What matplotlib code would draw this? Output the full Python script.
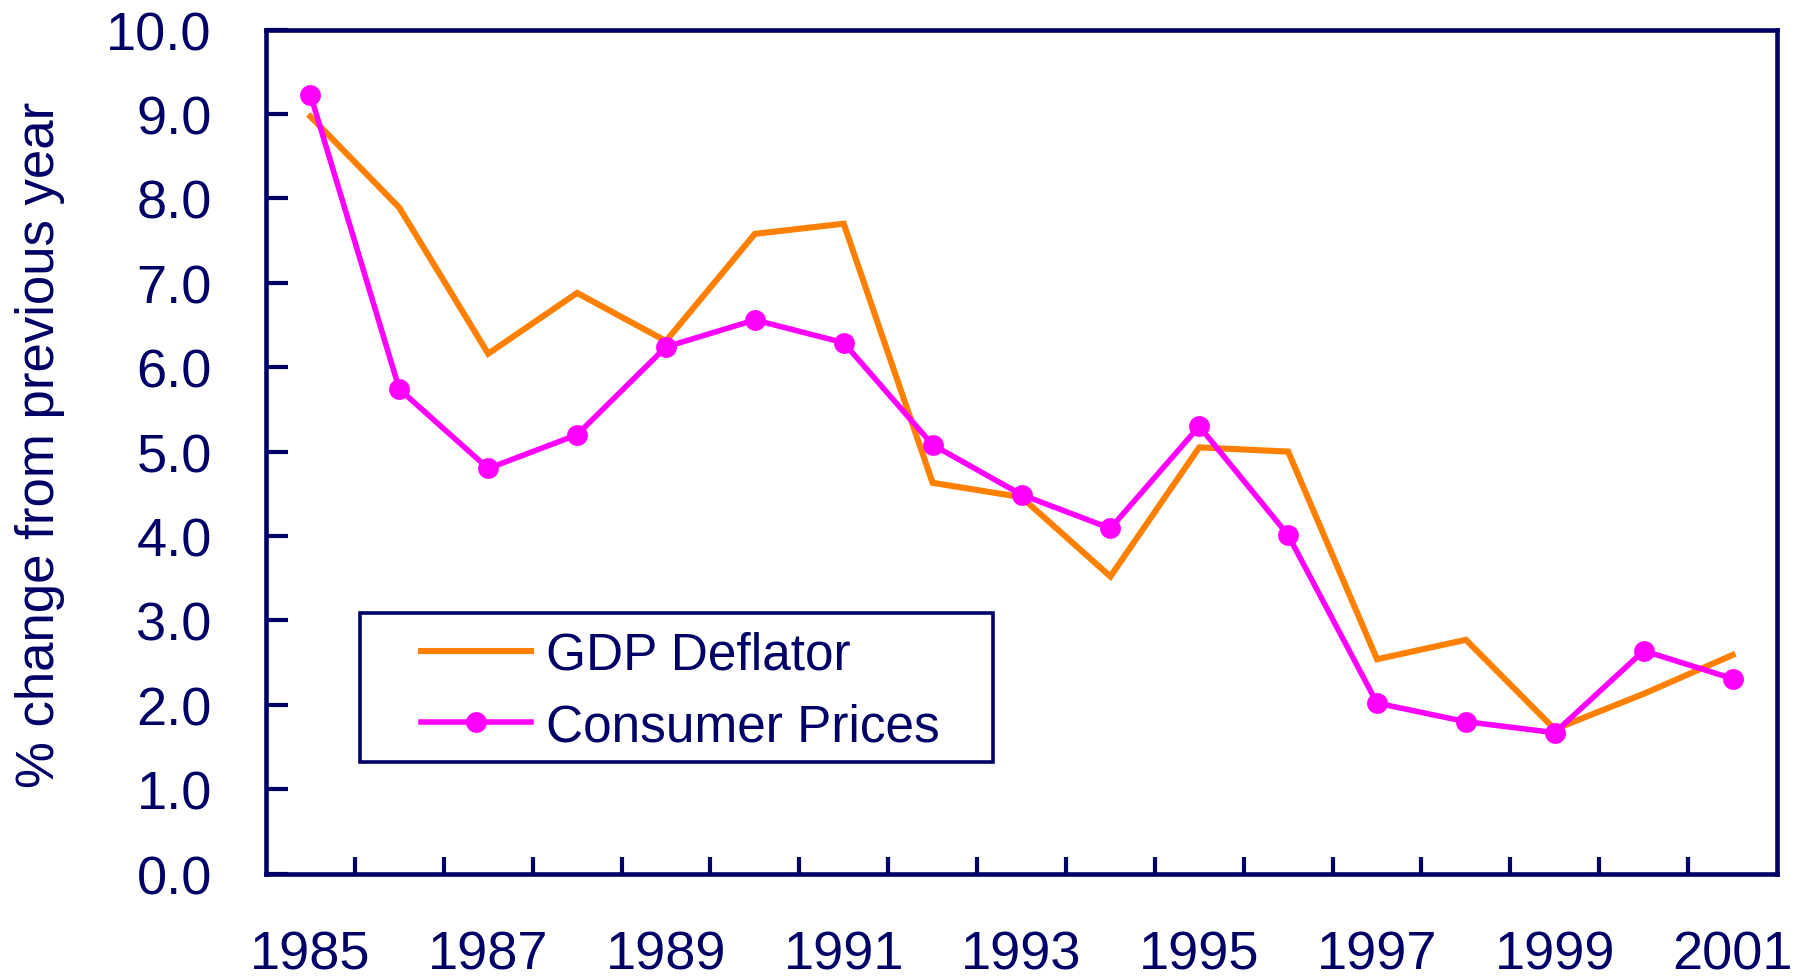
import matplotlib
matplotlib.use("Agg")
import matplotlib.pyplot as plt
from matplotlib.ticker import FixedLocator, FixedFormatter
from matplotlib.patches import Rectangle

years = list(range(1985, 2002))
gdp_deflator = [8.97, 7.89, 6.16, 6.88, 6.31, 7.58, 7.70, 4.63, 4.46, 3.52,
                5.05, 5.00, 2.54, 2.77, 1.71, 2.13, 2.59]
consumer_prices = [9.23, 5.74, 4.80, 5.20, 6.24, 6.56, 6.29, 5.08, 4.49, 4.09,
                   5.30, 4.01, 2.02, 1.80, 1.67, 2.64, 2.31]
y_ticks = [0, 1, 2, 3, 4, 5, 6, 7, 8, 9, 10]
y_tick_labels = ["0.0", "1.0", "2.0", "3.0", "4.0", "5.0", "6.0", "7.0", "8.0", "9.0", "10.0"]
x_label_years = [1985, 1987, 1989, 1991, 1993, 1995, 1997, 1999, 2001]
series_names = ["GDP Deflator", "Consumer Prices"]
ylabel = "% change from previous year"

NAVY = "#000066"
ORANGE = "#FF8000"
MAGENTA = "#FF00FF"
FONT = ["Liberation Sans", "DejaVu Sans"]

plt.rcParams["font.family"] = FONT

fig = plt.figure(figsize=(18.07, 9.79), dpi=100)
W, H = 1807, 979
left, right, top, bottom = 266, 1777, 30.6, 874.6
ax = fig.add_axes([left / W, 1 - bottom / H, (right - left) / W, (bottom - top) / H])

x = list(range(len(years)))
ax.plot(x, gdp_deflator, color=ORANGE, lw=4.4, solid_joinstyle="miter",
        label=series_names[0], zorder=3)
ax.plot(x, consumer_prices, color=MAGENTA, lw=4.0, marker="o", markersize=15,
        markeredgewidth=0, label=series_names[1], zorder=4)

ax.set_xlim(-0.5, len(years) - 0.5)
ax.set_ylim(0, 10)

for s in ax.spines.values():
    s.set_color(NAVY)
    s.set_linewidth(3.3)

ax.yaxis.set_major_locator(FixedLocator(y_ticks))
ax.yaxis.set_major_formatter(FixedFormatter(y_tick_labels))
ax.tick_params(axis="y", direction="in", length=16, width=3, color=NAVY,
               labelcolor=NAVY, labelsize=39, pad=39)

boundaries = [i + 0.5 for i in range(len(years) - 1)]
ax.xaxis.set_major_locator(FixedLocator(boundaries))
ax.xaxis.set_major_formatter(FixedFormatter([""] * len(boundaries)))
label_pos = [years.index(yv) for yv in x_label_years]
ax.xaxis.set_minor_locator(FixedLocator(label_pos))
ax.xaxis.set_minor_formatter(FixedFormatter([str(v) for v in x_label_years]))
ax.tick_params(axis="x", which="major", direction="in", length=12, width=3, color=NAVY)
ax.tick_params(axis="x", which="minor", length=0, labelcolor=NAVY, labelsize=39, pad=40)

fig.text(40 / W, 1 - 445 / H, ylabel, rotation=90, ha="center", va="center",
         fontsize=38, color=NAVY)

# legend frame
bx0, by0, bx1, by1 = 360, 614, 993, 763
ax.add_patch(Rectangle(((bx0 - left) / (right - left), (bottom - by1) / (bottom - top)),
                       (bx1 - bx0) / (right - left), (by1 - by0) / (bottom - top),
                       transform=ax.transAxes, fill=True, facecolor="white",
                       edgecolor=NAVY, lw=2.6, zorder=5, clip_on=False))
leg = ax.legend(loc="center left",
                bbox_to_anchor=((421 - left) / (right - left), (bottom - 692) / (bottom - top)),
                frameon=False, borderpad=0, borderaxespad=0, handlelength=2.15,
                handletextpad=0.28, labelspacing=0.43, fontsize=37, numpoints=1)
leg.set_zorder(6)
for t in leg.get_texts():
    t.set_color(NAVY)

fig.savefig("out.png", dpi=100, facecolor="white")
